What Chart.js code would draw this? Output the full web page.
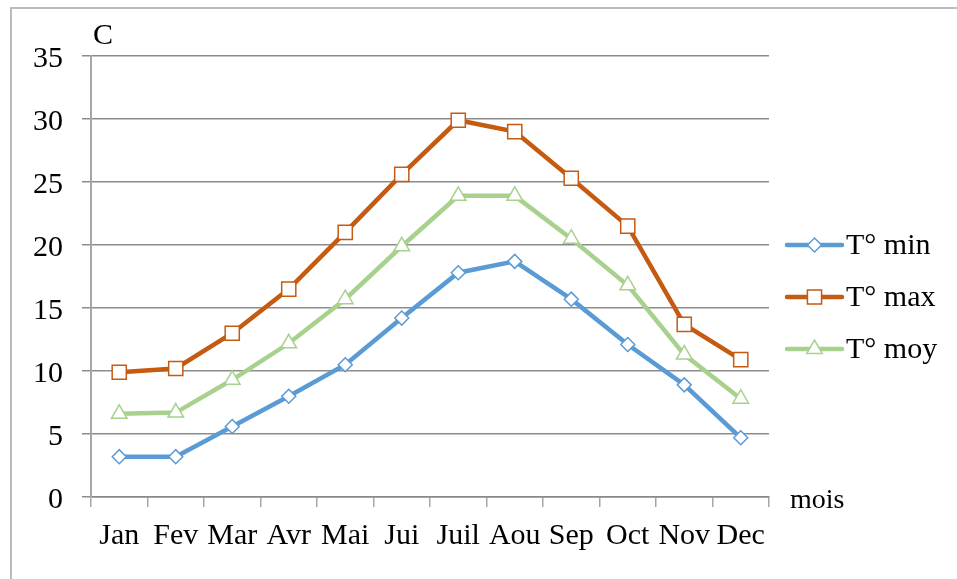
<!DOCTYPE html>
<html>
<head>
<meta charset="utf-8">
<script src="https://cdn.jsdelivr.net/npm/chart.js@4.4.1/dist/chart.umd.min.js"></script>
<style>
  html, body { margin: 0; padding: 0; background: #fff; }
  #wrap { width: 957px; height: 579px; position: relative; }
</style>
</head>
<body>
<div id="wrap"><canvas id="c" width="957" height="579"></canvas></div>
<script>
const categories = ['Jan','Fev','Mar','Avr','Mai','Jui','Juil','Aou','Sep','Oct','Nov','Dec'];
const tMin = [3.2, 3.2, 5.6, 8.0, 10.5, 14.2, 17.8, 18.7, 15.7, 12.1, 8.9, 4.7];
const tMax = [9.9, 10.2, 13.0, 16.5, 21.0, 25.6, 29.9, 29.0, 25.3, 21.5, 13.7, 10.9];
const tMoy = [6.6, 6.7, 9.3, 12.2, 15.7, 19.9, 23.9, 23.9, 20.5, 16.8, 11.3, 7.8];
const seriesNames = ['T° min', 'T° max', 'T° moy'];
const yTicks = [0, 5, 10, 15, 20, 25, 30, 35];
const yTitle = 'C';
const xTitle = 'mois';

const FONT = '"Liberation Serif", "Times New Roman", serif';

const extras = {
  id: 'extras',
  beforeDraw(chart) {
    const ctx = chart.ctx;
    ctx.save();
    ctx.strokeStyle = '#bcbcbc';
    ctx.lineWidth = 2;
    ctx.beginPath();
    ctx.moveTo(11, 2000);
    ctx.lineTo(11, 8);
    ctx.lineTo(2000, 8);
    ctx.stroke();
    ctx.restore();
  },
  afterDraw(chart) {
    const ctx = chart.ctx;
    const area = chart.chartArea;
    ctx.save();
    ctx.fillStyle = '#000';
    ctx.font = '30px ' + FONT;
    ctx.textBaseline = 'alphabetic';
    ctx.textAlign = 'left';
    ctx.fillText(yTitle, area.left + 2, area.top - 12);
    ctx.font = '28px ' + FONT;
    ctx.fillText(xTitle, area.right + 21, area.bottom + 11);

    // legend
    ctx.font = '30px ' + FONT;
    const rowY = [245, 297, 349];
    chart.data.datasets.forEach((ds, i) => {
      const y = rowY[i];
      const x0 = 787, x1 = 842;
      ctx.strokeStyle = ds.borderColor;
      ctx.lineWidth = 4.5;
      ctx.lineCap = 'round';
      ctx.beginPath();
      ctx.moveTo(x0, y);
      ctx.lineTo(x1, y);
      ctx.stroke();
      ctx.fillStyle = '#fff';
      ctx.strokeStyle = ds.borderColor;
      ctx.lineWidth = ds.pointBorderWidth;
      Chart.helpers.drawPoint(ctx, {
        pointStyle: ds.pointStyle,
        radius: ds.pointRadius,
        borderWidth: ds.pointBorderWidth,
        rotation: 0
      }, (x0 + x1) / 2, y);
      ctx.fillStyle = '#000';
      ctx.textBaseline = 'middle';
      ctx.fillText(ds.label, x1 + 4, y + 1);
    });
    ctx.restore();
  }
};

function mkDs(label, data, color, style, r) {
  return {
    label, data,
    borderColor: color,
    backgroundColor: '#ffffff',
    borderWidth: 4.5,
    pointStyle: style,
    pointRadius: r,
    pointHoverRadius: r,
    pointBorderWidth: 1.5,
    pointBorderColor: color,
    pointBackgroundColor: '#ffffff',
    tension: 0,
    fill: false
  };
}

new Chart(document.getElementById('c'), {
  type: 'line',
  data: {
    labels: categories,
    datasets: [
      mkDs(seriesNames[0], tMin, '#5B9BD5', 'rectRot', 7),
      mkDs(seriesNames[1], tMax, '#C55A11', 'rect', 10),
      mkDs(seriesNames[2], tMoy, '#A9D18E', 'triangle', 9)
    ]
  },
  options: {
    responsive: false,
    animation: false,
    devicePixelRatio: 1,
    layout: { padding: { left: 0, top: 56, right: 188, bottom: 0 } },
    plugins: { legend: { display: false }, tooltip: { enabled: false } },
    scales: {
      x: {
        type: 'category',
        offset: true,
        grid: {
          offset: true,
          drawOnChartArea: false,
          drawTicks: true,
          tickLength: 10,
          color: '#a6a6a6',
          lineWidth: 1.5
        },
        border: { display: true, color: '#888888', width: 1.5 },
        ticks: {
          color: '#000',
          font: { family: FONT, size: 30 },
          padding: 11,
          maxRotation: 0,
          autoSkip: false
        },
        afterFit(scale) { scale.height = 82; }
      },
      y: {
        min: 0, max: 35,
        afterBuildTicks(scale) { scale.ticks = yTicks.map(v => ({ value: v })); },
        grid: {
          color: '#8c8c8c',
          lineWidth: 1.5,
          tickLength: 9,
          drawTicks: true
        },
        border: { display: true, color: '#a6a6a6', width: 2 },
        ticks: {
          color: '#000',
          font: { family: FONT, size: 30 },
          padding: 19,
          labelOffset: 3
        },
        afterFit(scale) { scale.width = 91; }
      }
    }
  },
  plugins: [extras]
});
</script>
</body>
</html>
